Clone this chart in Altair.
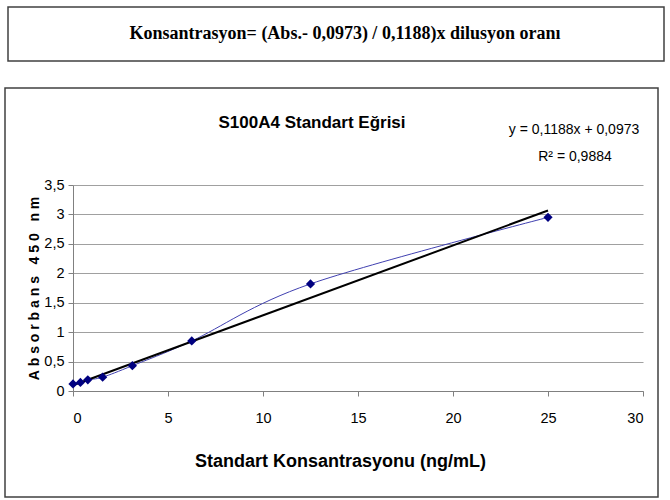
import altair as alt
import pandas as pd

# ---- data ----
concentration = [0, 0.39, 0.78, 1.56, 3.125, 6.25, 12.5, 25]
absorbance = [0.12, 0.145, 0.19, 0.235, 0.43, 0.85, 1.82, 2.95]
slope = 0.1188
intercept = 0.0973
trend_extent = [0, 25]
x_ticks = [0, 5, 10, 15, 20, 25, 30]
y_ticks = [0, 0.5, 1, 1.5, 2, 2.5, 3, 3.5]

formula_text = "Konsantrasyon= (Abs.- 0,0973) / 0,1188)x dilusyon oranı"
chart_title = "S100A4 Standart Eğrisi"
equation_text = "y = 0,1188x + 0,0973"
r2_text = "R² = 0,9884"
x_title = "Standart Konsantrasyonu (ng/mL)"
y_title = "\u00a0".join("Absorbans") + "\u00a0\u00a0\u00a0" + "\u00a0".join("450") + "\u00a0\u00a0\u00a0" + "\u00a0".join("nm")

SANS = "Liberation Sans, Arial, sans-serif"
SERIF = "Liberation Serif, Times New Roman, serif"

W, H = 570, 206
L, T = 73, 185

pts = pd.DataFrame({"x": concentration, "y": absorbance})
trend = pd.DataFrame({"x": trend_extent})

xs = alt.Scale(domain=[0, 30], nice=False)
ys = alt.Scale(domain=[0, 3.5], nice=False)

x_axis = alt.Axis(
    values=x_ticks, title=x_title, grid=False, labelOverlap=False,
    labelFont=SANS, labelFontSize=14.5, labelColor="#000", labelPadding=15,
    tickSize=5, tickColor="#808080", domainColor="#808080",
    titleFont=SANS, titleFontSize=18, titleFontWeight="bold", titleColor="#000",
    titleX=267, titleY=70, titleAlign="center", titleBaseline="middle",
)
y_axis = alt.Axis(
    values=y_ticks, title=y_title, labelOverlap=False,
    labelExpr="replace(toString(datum.value), '.', ',')",
    grid=True, gridColor="#a0a0a0", gridWidth=1,
    labelFont=SANS, labelFontSize=14.5, labelColor="#000", labelPadding=4,
    tickSize=5, tickColor="#808080", domainColor="#808080",
    titleFont=SANS, titleFontSize=14, titleFontWeight="bold", titleColor="#000",
    titleX=-39, titleY=103, titleAngle=-90, titleAlign="center", titleBaseline="middle",
)

X = alt.X("x:Q", scale=xs, axis=x_axis)
Y = alt.Y("y:Q", scale=ys, axis=y_axis)

smooth = alt.Chart(pts).mark_line(
    interpolate="cardinal", tension=0, color="#4040b0", strokeWidth=1
).encode(x=X, y=Y)

trend_line = alt.Chart(trend).transform_calculate(
    y=f"{intercept} + {slope} * datum.x"
).mark_line(color="#000000", strokeWidth=2).encode(x=X, y=Y)

markers = alt.Chart(pts).mark_point(
    shape="diamond", filled=True, color="#000080", size=85, opacity=1
).encode(x=X, y=Y)

one = pd.DataFrame({"d": [0]})

def box(x1, y1, x2, y2):
    return alt.Chart(one).mark_rect(fill="white", fillOpacity=0, stroke="#404040", strokeWidth=1.5).encode(
        x=alt.value(x1 - L), y=alt.value(y1 - T), x2=alt.value(x2 - L), y2=alt.value(y2 - T)
    )

def label(text, x, y, font, size, weight="normal", align="center"):
    return alt.Chart(pd.DataFrame({"t": [text]})).mark_text(
        font=font, fontSize=size, fontWeight=weight, color="#000", align=align, baseline="middle"
    ).encode(x=alt.value(x - L), y=alt.value(y - T), text="t:N")

chart = alt.layer(
    box(8, 7, 664, 61),
    box(5, 88, 658, 497),
    smooth, trend_line, markers,
    label(formula_text, 345, 34, SERIF, 18, "bold"),
    label(chart_title, 312, 123, SANS, 17, "bold"),
    label(equation_text, 574, 130, SANS, 14),
    label(r2_text, 575, 157, SANS, 14),
).properties(
    width=W, height=H, autosize="none",
    padding={"left": L, "top": T, "right": 670 - L - W, "bottom": 500 - T - H},
    background="white",
).configure_view(stroke=None)

chart.save("out.html", embed_options={"renderer": "svg", "actions": False})
